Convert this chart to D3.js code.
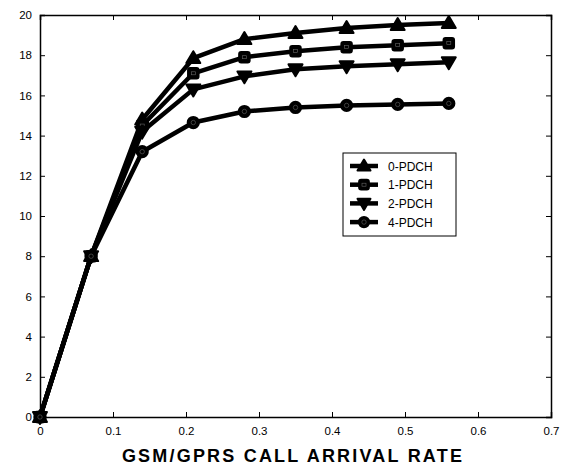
<!DOCTYPE html>
<html>
<head>
<meta charset="utf-8">
<script src="https://cdn.jsdelivr.net/npm/d3@7"></script>
<style>
  body { margin: 0; background: #fff; }
  text { font-family: "Liberation Sans", Arial, sans-serif; }
</style>
</head>
<body>
<div id="chart"></div>
<script>
// Data
var rates = [0, 0.07, 0.14, 0.21, 0.28, 0.35, 0.42, 0.49, 0.56];
var pdch0 = [0, 8, 14.8, 17.85, 18.8, 19.1, 19.35, 19.5, 19.6];
var pdch1 = [0, 8, 14.5, 17.1, 17.9, 18.2, 18.4, 18.5, 18.6];
var pdch2 = [0, 8, 14.2, 16.3, 16.95, 17.3, 17.45, 17.55, 17.65];
var pdch4 = [0, 8, 13.2, 14.65, 15.2, 15.4, 15.5, 15.55, 15.6];
var seriesNames = ["0-PDCH", "1-PDCH", "2-PDCH", "4-PDCH"];
var xTicks = [0, 0.1, 0.2, 0.3, 0.4, 0.5, 0.6, 0.7];
var yTicks = [0, 2, 4, 6, 8, 10, 12, 14, 16, 18, 20];

var series = [pdch0, pdch1, pdch2, pdch4];
var symbols = ["up", "square", "down", "circle"];

var margin = {top: 15, right: 30, bottom: 52, left: 40};
var width = 581 - margin.left - margin.right;
var height = 469 - margin.top - margin.bottom;

var svg = d3.select("#chart").append("svg")
    .attr("width", 581)
    .attr("height", 469)
    .append("g")
    .attr("transform", "translate(" + margin.left + "," + margin.top + ")");

// Scales
var xScale = d3.scaleLinear().domain([0, 0.7]).range([0, width]);
var yScale = d3.scaleLinear().domain([0, 20]).range([height, 0]);

// Axes (ticks point inwards, mirrored on top and right)
svg.append("g")
    .attr("transform", "translate(0," + height + ")")
    .call(d3.axisBottom(xScale).tickValues(xTicks).tickSize(-5).tickPadding(10).tickFormat(d3.format("")));
svg.append("g")
    .call(d3.axisTop(xScale).tickValues(xTicks).tickSize(-5).tickFormat(""));
svg.append("g")
    .call(d3.axisLeft(yScale).tickValues(yTicks).tickSize(-5).tickPadding(8));
svg.append("g")
    .attr("transform", "translate(" + width + ",0)")
    .call(d3.axisRight(yScale).tickValues(yTicks).tickSize(-5).tickFormat(""));

svg.selectAll(".domain").attr("stroke", "#000").attr("stroke-width", 1.5);
svg.selectAll(".tick line").attr("stroke", "#000");
svg.selectAll(".tick text").attr("font-size", 11.5).attr("fill", "#000")
    .attr("font-family", "'Liberation Sans', Arial, sans-serif");

// Marker drawing
function drawMarker(g, type, x, y, s) {
    if (type === "up") {
        g.append("path")
            .attr("d", "M" + x + "," + (y - s) + "L" + (x + s) + "," + (y + s * 0.7) + "L" + (x - s) + "," + (y + s * 0.7) + "Z")
            .attr("fill", "#000").attr("stroke", "#000").attr("stroke-width", 2).attr("stroke-linejoin", "round");
    } else if (type === "down") {
        g.append("path")
            .attr("d", "M" + x + "," + (y + s) + "L" + (x + s) + "," + (y - s * 0.7) + "L" + (x - s) + "," + (y - s * 0.7) + "Z")
            .attr("fill", "#000").attr("stroke", "#000").attr("stroke-width", 2).attr("stroke-linejoin", "round");
    } else if (type === "square") {
        g.append("rect")
            .attr("x", x - s * 0.75).attr("y", y - s * 0.75)
            .attr("width", s * 1.5).attr("height", s * 1.5).attr("rx", 2)
            .attr("fill", "#000").attr("stroke", "#000").attr("stroke-width", 2);
        g.append("rect")
            .attr("x", x - 2).attr("y", y - 1.5).attr("width", 4).attr("height", 3)
            .attr("fill", "none").attr("stroke", "#666").attr("stroke-width", 0.6);
    } else {
        g.append("circle")
            .attr("cx", x).attr("cy", y).attr("r", s * 0.8)
            .attr("fill", "#000").attr("stroke", "#000").attr("stroke-width", 2);
        g.append("circle")
            .attr("cx", x).attr("cy", y).attr("r", 2.2)
            .attr("fill", "none").attr("stroke", "#666").attr("stroke-width", 0.6);
    }
}

// Lines
var line = d3.line()
    .x(function (d, i) { return xScale(rates[i]); })
    .y(function (d) { return yScale(d); });

series.forEach(function (vals, k) {
    svg.append("path")
        .datum(vals)
        .attr("fill", "none")
        .attr("stroke", "#000")
        .attr("stroke-width", 4.5)
        .attr("stroke-linejoin", "round")
        .attr("d", line);
});
series.forEach(function (vals, k) {
    var g = svg.append("g");
    vals.forEach(function (v, i) {
        drawMarker(g, symbols[k], xScale(rates[i]), yScale(v), 7);
    });
});

// Legend
var legend = d3.select("svg").append("g").attr("transform", "translate(343,153)");
legend.append("rect")
    .attr("width", 113).attr("height", 83)
    .attr("fill", "#fff").attr("stroke", "#000").attr("stroke-width", 1);
seriesNames.forEach(function (name, k) {
    var yy = 13 + k * 18.7;
    legend.append("line")
        .attr("x1", 7).attr("x2", 35).attr("y1", yy).attr("y2", yy)
        .attr("stroke", "#000").attr("stroke-width", 4.5);
    drawMarker(legend, symbols[k], 21, yy, 6.5);
    legend.append("text")
        .attr("x", 45).attr("y", yy + 4.5)
        .attr("font-size", 12).attr("fill", "#000")
        .text(name);
});

// Axis title
d3.select("svg").append("text")
    .attr("x", 293)
    .attr("y", 462)
    .attr("text-anchor", "middle")
    .attr("font-size", 18)
    .attr("font-weight", "bold")
    .attr("letter-spacing", 2.2)
    .attr("fill", "#000")
    .text("GSM/GPRS CALL ARRIVAL RATE");
</script>
</body>
</html>
